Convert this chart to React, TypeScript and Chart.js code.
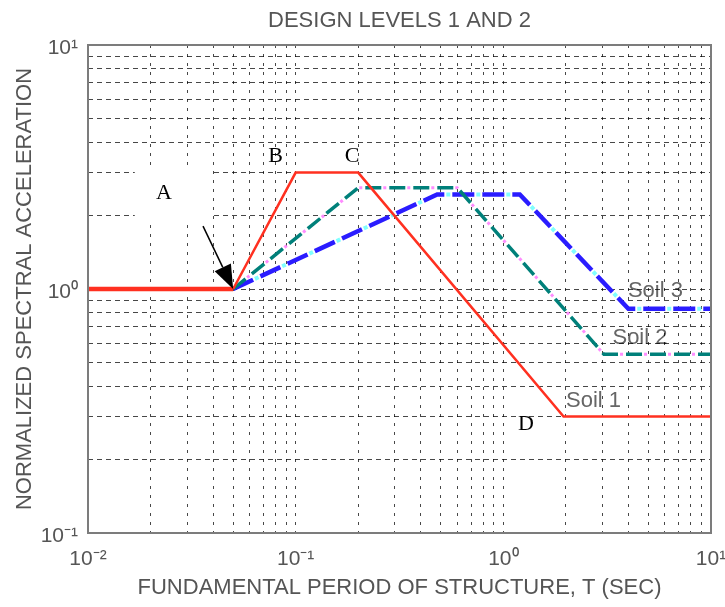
import React, { useEffect, useRef } from 'react';
import { Chart, registerables } from 'chart.js';

Chart.register(...registerables);

// Normalized spectral acceleration curves (period T in seconds)
const soil1Period = [0.01, 0.05, 0.1, 0.2, 1.95, 10];
const soil1Accel = [1, 1, 3, 3, 0.3, 0.3];
const soil2Period = [0.05, 0.2, 0.6, 3.05, 10];
const soil2Accel = [1, 2.6, 2.6, 0.54, 0.54];
const soil3Period = [0.05, 0.48, 1.2, 4.0, 10];
const soil3Accel = [1, 2.44, 2.44, 0.83, 0.83];

// Decade tick labels
const periodDecades = [0.01, 0.1, 1, 10];
const periodDecadeLabels = ['10⁻²', '10⁻¹', '10⁰', '10¹'];
const accelDecades = [0.1, 1, 10];
const accelDecadeLabels = ['10⁻¹', '10⁰', '10¹'];
const minorMultipliers = [1, 2, 3, 4, 5, 6, 7, 8, 9];

// Text annotations, anchored in data units
const curveNames = ['Soil 1', 'Soil 2', 'Soil 3'];
const curveNameT = [2.72, 4.55, 5.4];
const curveNameS = [0.347, 0.63, 0.98];
const cornerLetters = ['B', 'C', 'D'];
const cornerLetterT = [0.08, 0.187, 1.285];
const cornerLetterS = [3.49, 3.5, 0.28];
const pointA = { label: 'A', t: 0.0232, s: 2.46 };
const pointABox = { t0: 0.0168, t1: 0.0395, s0: 3.16, s1: 1.86 };
const arrowFrom = { t: 0.0358, s: 1.81 };
const arrowTo = { t: 0.05, s: 1 };

const SANS = '"Liberation Sans", Arial, Helvetica, sans-serif';
const SERIF = '"Liberation Serif", "Times New Roman", serif';
const TEXT_GRAY = '#555555';
const GRID_COLOR = 'rgba(0,0,0,0.72)';

const toPoints = (xs: number[], ys: number[]) => xs.map((x, i) => ({ x, y: ys[i] }));

const gridValues = (decades: number[]) => {
  const out: number[] = [];
  decades.forEach((d, i) => {
    if (i === decades.length - 1) {
      out.push(d);
      return;
    }
    minorMultipliers.forEach((m) => out.push(+(d * m).toPrecision(6)));
  });
  return out;
};

const decadeLabel = (value: number, decades: number[], labels: string[]) => {
  const idx = decades.findIndex((d) => Math.abs(Math.log10(value) - Math.log10(d)) < 1e-6);
  return idx >= 0 ? labels[idx] : '';
};

const annotationPlugin = {
  id: 'spectrumAnnotations',
  beforeDraw(chart: any) {
    const { ctx, scales } = chart;
    const x = scales.x;
    const y = scales.y;
    ctx.save();
    ctx.font = `22px ${SANS}`;
    ctx.fillStyle = '#666666';
    ctx.textAlign = 'center';
    ctx.textBaseline = 'middle';
    curveNames.forEach((name, i) => {
      ctx.fillText(name, x.getPixelForValue(curveNameT[i]), y.getPixelForValue(curveNameS[i]));
    });
    ctx.restore();
  },
  beforeDatasetsDraw(chart: any) {
    const { ctx, scales } = chart;
    const x = scales.x;
    const y = scales.y;
    const bx0 = x.getPixelForValue(pointABox.t0);
    const bx1 = x.getPixelForValue(pointABox.t1);
    const by0 = y.getPixelForValue(pointABox.s0);
    const by1 = y.getPixelForValue(pointABox.s1);
    ctx.save();
    ctx.fillStyle = '#ffffff';
    ctx.fillRect(bx0, by0, bx1 - bx0, by1 - by0);
    ctx.restore();
  },
  afterDatasetsDraw(chart: any) {
    const { ctx, scales, chartArea } = chart;
    const x = scales.x;
    const y = scales.y;
    ctx.save();

    // axes frame
    ctx.strokeStyle = '#7c7c7c';
    ctx.lineWidth = 2;
    ctx.strokeRect(chartArea.left, chartArea.top, chartArea.right - chartArea.left, chartArea.bottom - chartArea.top);

    // corner letters
    ctx.fillStyle = '#000000';
    ctx.font = `22px ${SERIF}`;
    ctx.textAlign = 'center';
    ctx.textBaseline = 'middle';
    ctx.fillText(pointA.label, x.getPixelForValue(pointA.t), y.getPixelForValue(pointA.s));
    cornerLetters.forEach((c, i) => {
      ctx.fillText(c, x.getPixelForValue(cornerLetterT[i]), y.getPixelForValue(cornerLetterS[i]));
    });

    // arrow to point A
    const ax0 = x.getPixelForValue(arrowFrom.t);
    const ay0 = y.getPixelForValue(arrowFrom.s);
    const ax1 = x.getPixelForValue(arrowTo.t);
    const ay1 = y.getPixelForValue(arrowTo.s);
    const ang = Math.atan2(ay1 - ay0, ax1 - ax0);
    const headLen = 24;
    const headHalf = 9;
    const bx = ax1 - headLen * Math.cos(ang);
    const by = ay1 - headLen * Math.sin(ang);
    ctx.strokeStyle = '#000000';
    ctx.lineWidth = 1.5;
    ctx.beginPath();
    ctx.moveTo(ax0, ay0);
    ctx.lineTo(bx, by);
    ctx.stroke();
    ctx.beginPath();
    ctx.moveTo(ax1, ay1);
    ctx.lineTo(bx + headHalf * Math.sin(ang), by - headHalf * Math.cos(ang));
    ctx.lineTo(bx - headHalf * Math.sin(ang), by + headHalf * Math.cos(ang));
    ctx.closePath();
    ctx.fill();
    ctx.restore();
  },
};

export default function App() {
  const canvasRef = useRef<HTMLCanvasElement | null>(null);

  useEffect(() => {
    const canvas = canvasRef.current;
    if (!canvas) return;

    const xGrid = gridValues(periodDecades);
    const yGrid = gridValues(accelDecades);

    const chart = new Chart(canvas, {
      type: 'scatter',
      data: {
        datasets: [
          {
            label: 'Soil 1',
            data: toPoints(soil1Period, soil1Accel),
            showLine: true,
            borderColor: '#ff3020',
            borderWidth: 2.5,
            pointRadius: 0,
            segment: {
              borderWidth: (c: any) => (c.p0DataIndex === 0 ? 4.5 : 2.5),
            },
          },
          {
            label: 'Soil 2 accent',
            data: toPoints(soil2Period, soil2Accel),
            showLine: true,
            borderColor: '#ff8cff',
            borderWidth: 3,
            borderDash: [3, 21],
            borderDashOffset: -18,
            pointRadius: 0,
          },
          {
            label: 'Soil 2',
            data: toPoints(soil2Period, soil2Accel),
            showLine: true,
            borderColor: '#00807a',
            borderWidth: 3.5,
            borderDash: [16, 8],
            pointRadius: 0,
          },
          {
            label: 'Soil 3 accent',
            data: toPoints(soil3Period, soil3Accel),
            showLine: true,
            borderColor: '#80ffff',
            borderWidth: 4,
            borderDash: [4, 26],
            borderDashOffset: -24,
            pointRadius: 0,
          },
          {
            label: 'Soil 3',
            data: toPoints(soil3Period, soil3Accel),
            showLine: true,
            borderColor: '#2a1cff',
            borderWidth: 4.5,
            borderDash: [22, 8],
            pointRadius: 0,
          },
        ],
      },
      options: {
        responsive: false,
        animation: false,
        layout: { padding: { left: 0, right: 14, top: 0, bottom: 0 } },
        plugins: {
          legend: { display: false },
          tooltip: { enabled: false },
          title: {
            display: true,
            text: 'DESIGN LEVELS 1 AND 2',
            fullSize: false,
            color: TEXT_GRAY,
            font: { family: SANS, size: 22, weight: 'normal', lineHeight: 1.2 },
            padding: { top: 8, bottom: 10.6 },
          },
        },
        scales: {
          x: {
            type: 'logarithmic',
            min: 0.01,
            max: 10,
            // dotted vertical grid lines
            border: { display: false, dash: [3, 6] },
            grid: {
              color: GRID_COLOR,
              lineWidth: 1,
              drawTicks: false,
            },
            ticks: {
              autoSkip: false,
              maxRotation: 0,
              minRotation: 0,
              padding: 14,
              color: TEXT_GRAY,
              font: { family: SANS, size: 21 },
              callback: (v: any) => decadeLabel(Number(v), periodDecades, periodDecadeLabels),
            },
            title: {
              display: true,
              text: 'FUNDAMENTAL PERIOD OF STRUCTURE, T (SEC)',
              color: TEXT_GRAY,
              font: { family: SANS, size: 22, lineHeight: 1.2 },
              padding: { top: 0, bottom: 6 },
            },
            afterBuildTicks: (scale: any) => {
              scale.ticks = xGrid.map((value) => ({ value }));
            },
            afterFit: (scale: any) => {
              scale.height = 74;
              scale.paddingLeft = 0;
              scale.paddingRight = 0;
            },
          } as any,
          y: {
            type: 'logarithmic',
            min: 0.1,
            max: 10,
            // dashed horizontal grid lines
            border: { display: false, dash: [5, 4] },
            grid: {
              color: GRID_COLOR,
              lineWidth: 1,
              drawTicks: false,
            },
            ticks: {
              autoSkip: false,
              padding: 10,
              labelOffset: 3,
              color: TEXT_GRAY,
              font: { family: SANS, size: 21 },
              callback: (v: any) => decadeLabel(Number(v), accelDecades, accelDecadeLabels),
            },
            title: {
              display: true,
              text: 'NORMALIZED SPECTRAL ACCELERATION',
              color: TEXT_GRAY,
              font: { family: SANS, size: 22, lineHeight: 1.2 },
              padding: { top: 12, bottom: 0 },
            },
            afterBuildTicks: (scale: any) => {
              scale.ticks = yGrid.map((value) => ({ value }));
            },
            afterFit: (scale: any) => {
              scale.width = 88;
              scale.paddingTop = 0;
              scale.paddingBottom = 0;
            },
          } as any,
        },
      },
      plugins: [annotationPlugin],
    });

    return () => chart.destroy();
  }, []);

  return (
    <div style={{ position: 'absolute', left: 0, top: 0, width: 725, height: 607, background: '#ffffff' }}>
      <canvas ref={canvasRef} width={725} height={607} style={{ display: 'block' }} />
    </div>
  );
}
